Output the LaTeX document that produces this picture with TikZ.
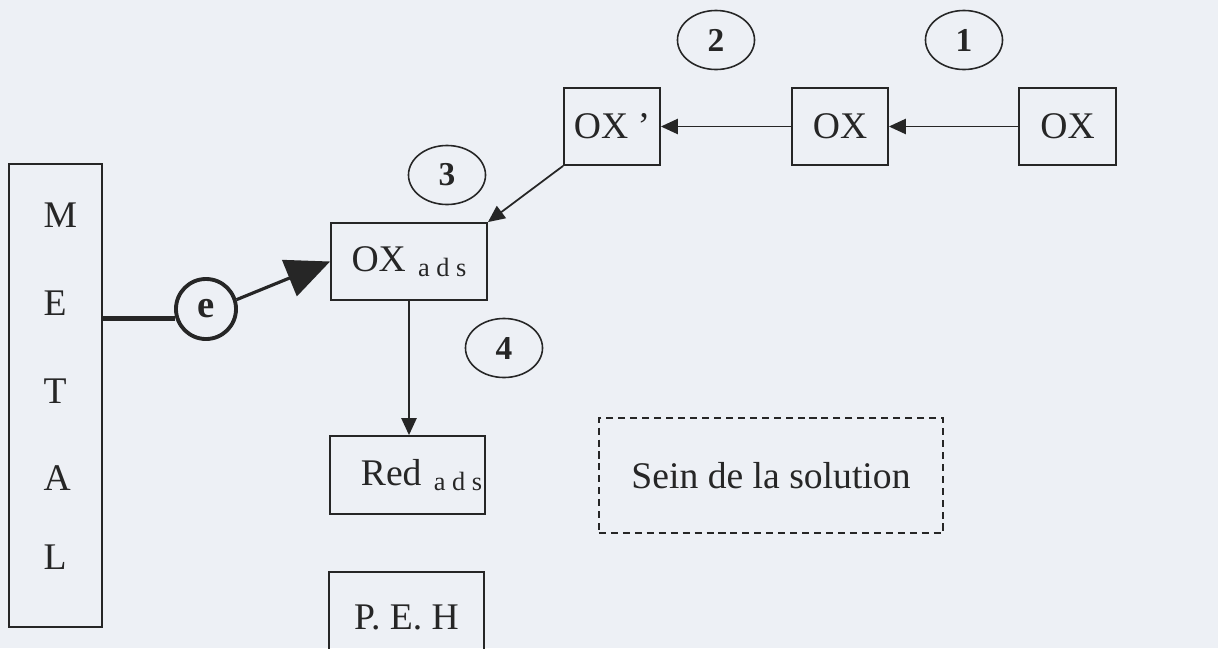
\documentclass[tikz,border=0pt]{standalone}
\usepackage{fontspec}
\setmainfont{Liberation Serif}
\usetikzlibrary{shapes.geometric,arrows.meta}
\definecolor{paper}{HTML}{EDF0F5}
\definecolor{ink}{HTML}{262626}
\newcommand{\ads}{\hspace{3.5pt}\raisebox{-1.5pt}{\fontsize{7.5}{9}\selectfont a d s}}
\tikzset{
  box/.style={draw=ink,line width=0.5pt,inner sep=0pt,minimum height=0.77cm,text=ink,font=\fontsize{10.7}{12}\selectfont},
  num/.style={draw=ink,line width=0.45pt,ellipse,inner sep=0pt,minimum width=0.77cm,minimum height=0.59cm,text=ink,font=\fontsize{9.5}{10}\selectfont\bfseries},
  link/.style={draw=ink,line width=0.5pt,-{Triangle[length=4.8pt,width=4.3pt]}}
}
\begin{document}
\begin{tikzpicture}[x=0.01cm,y=-0.01cm]
\fill[paper](0,0)rectangle(1218,648);
\useasboundingbox(0,0)rectangle(1218,648);
\node[box,minimum width=0.93cm,minimum height=4.63cm](metal)at(55.5,395.5){};
\foreach \l/\y in {M/215,E/303,T/391,A/478,L/557}
  \node[anchor=west,inner sep=0pt,text=ink,font=\fontsize{10.7}{12}\selectfont](l\l)at(43,\y){\l};
\node[box,minimum width=0.97cm](oxsrc)at(1067.5,126.5){OX};
\node[box,minimum width=0.96cm](ox)at(840,126.5){OX};
\node[box,minimum width=0.96cm](oxp)at(612,126.5){OX~'};
\node[box,minimum width=1.56cm](oxads)at(409,261.5){OX\ads};
\node[box,minimum width=1.55cm,minimum height=0.78cm](red)at(407.5,475){\hspace{8pt}Red\ads};
\node[box,minimum width=1.55cm,minimum height=0.9cm](peh)at(406.5,617){P. E. H};
\node[box,minimum width=3.44cm,minimum height=1.15cm,dash pattern=on 2pt off 1.4pt,line width=0.6pt](sein)at(771,475.5){Sein de la solution};
\node[num](n1)at(964,40){1};
\node[num](n2)at(716,40){2};
\node[num](n3)at(447,175){3};
\node[num](n4)at(504,348){4};
\node[draw=ink,circle,line width=1.1pt,inner sep=0pt,minimum size=0.6cm,text=ink,font=\fontsize{11}{12}\selectfont\bfseries](e)at(206,309){e};
\draw[link](oxsrc)--(ox);
\draw[link](ox)--(oxp);
\draw[link](oxp.south west)--(oxads.north east);
\draw[link](oxads.south)--(oxads.south|-red.north);
\draw[ink,line width=1.4pt](e.197)--(e.197-|metal.east);
\draw[ink,line width=0.9pt,-{Triangle[length=12.5pt,width=11pt]}](e.17)--(oxads.west);
\end{tikzpicture}
\end{document}
